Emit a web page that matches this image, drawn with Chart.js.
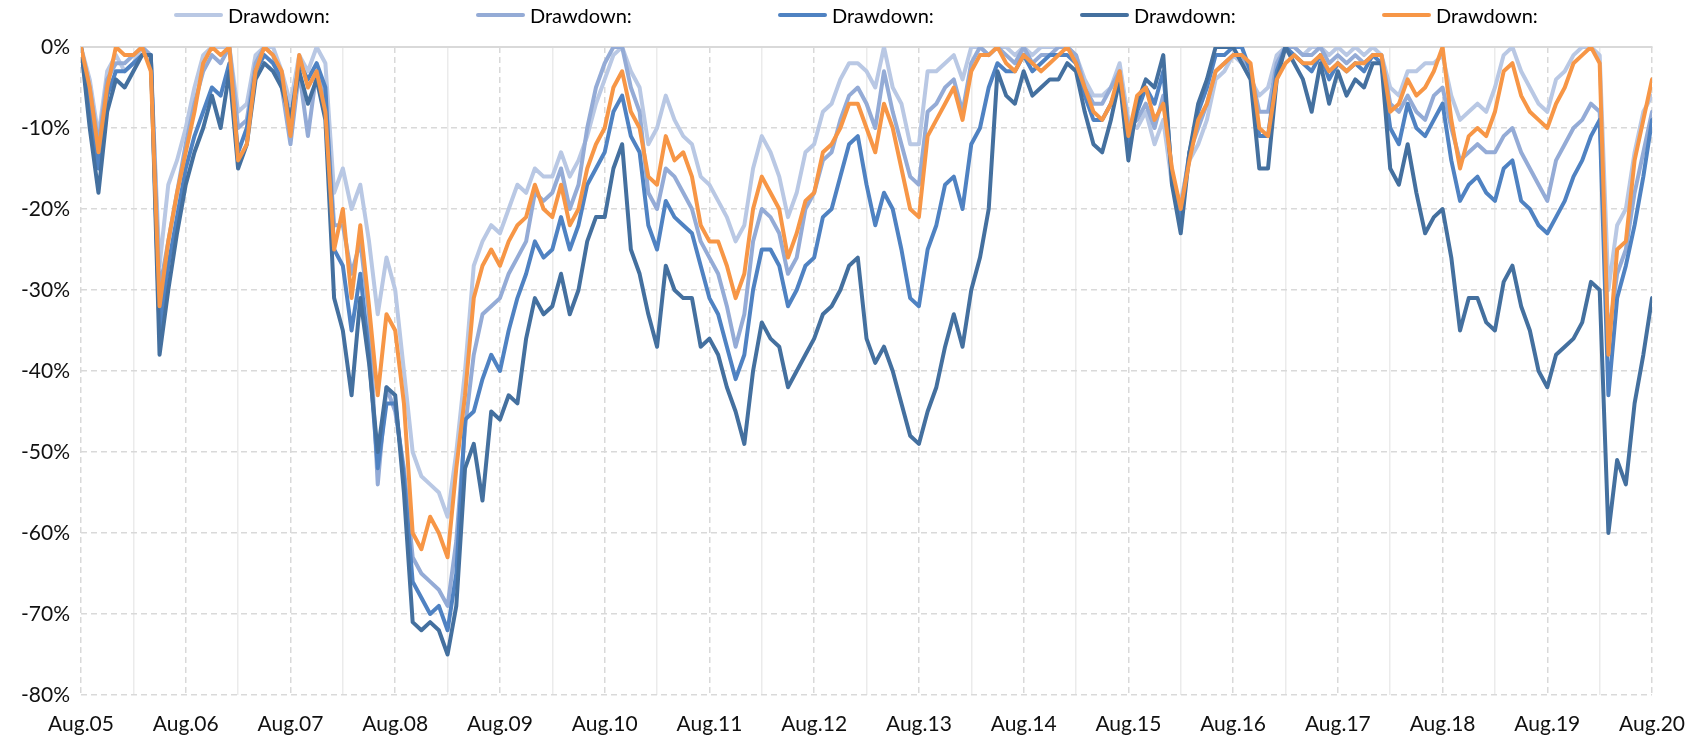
<!DOCTYPE html>
<html>
<head>
<meta charset="utf-8">
<title>Drawdown</title>
<script src="https://cdn.jsdelivr.net/npm/chart.js@4.4.1/dist/chart.umd.min.js"></script>
<style>
  html, body { margin: 0; padding: 0; background: #fff; }
  #wrap { position: relative; width: 1702px; height: 741px; }
  #legend { position: absolute; left: 174px; top: 4px; display: flex; font-family: Lato, sans-serif; font-size: 20px; color: #000; line-height: 22px; }
  #legend .item { width: 302px; display: flex; align-items: center; }
  #legend .swatch { width: 49px; height: 4px; border-radius: 2px; margin-right: 5px; }
</style>
</head>
<body>
<div id="wrap">
  <canvas id="chart" width="1702" height="741"></canvas>
  <div id="legend"></div>
</div>
<script>
// x positions: months since Aug.2005 (0 .. 180 = Aug.2020), one point per month
const months = Array.from({ length: 181 }, (_, i) => i);

// drawdown in %
const ddLight = [
  0, -4, -11, -3, -1, -3, -2, 0, -2, -27, -17, -14, -10, -5, -1, 0, 0, 0, -8, -7,
  -1, 0, 0, -3, -7, -1, -3, 0, -2, -18, -15, -20, -17, -24, -33, -26, -30, -40, -50, -53,
  -54, -55, -58, -50, -40, -27, -24, -22, -23, -20, -17, -18, -15, -16, -16, -13, -16, -14, -11, -7,
  -4, -1, 0, -3, -5, -12, -10, -6, -9, -11, -12, -16, -17, -19, -21, -24, -22, -15, -11, -13,
  -16, -21, -18, -13, -12, -8, -7, -4, -2, -2, -3, -5, 0, -5, -7, -12, -12, -3, -3, -2,
  -1, -4, 0, 0, -1, 0, 0, -1, 0, -1, 0, 0, 0, 0, -1, -4, -6, -6, -5, -2,
  -9, -10, -8, -12, -9, -17, -19, -14, -12, -9, -4, -3, -1, -2, -4, -6, -5, -1, 0, 0,
  -1, 0, 0, -1, 0, -1, 0, -1, 0, -1, -5, -6, -3, -3, -2, -2, -1, -6, -9, -8,
  -7, -8, -5, -1, 0, -3, -5, -7, -8, -4, -3, -1, 0, 0, -1, -30, -22, -20, -13, -8,
  -6
];
const ddMedium = [
  0, -5, -12, -4, -2, -2, -1, 0, -1, -30, -24, -18, -12, -7, -3, -1, -2, 0, -10, -9,
  -2, 0, -1, -5, -12, -3, -11, -3, -6, -22, -22, -28, -24, -33, -54, -42, -45, -52, -63, -65,
  -66, -67, -69, -61, -47, -38, -33, -32, -31, -28, -26, -24, -18, -19, -18, -15, -20, -17, -10, -5,
  -2, 0, 0, -5, -8, -18, -20, -15, -16, -18, -20, -24, -26, -28, -32, -37, -33, -24, -20, -21,
  -23, -28, -26, -20, -18, -14, -13, -9, -6, -5, -7, -10, -3, -8, -12, -16, -17, -8, -7, -5,
  -4, -8, -2, 0, -1, 0, -1, -2, 0, -2, -1, -1, 0, 0, -1, -5, -7, -7, -5, -3,
  -10, -9, -7, -10, -6, -16, -20, -13, -10, -7, -3, -2, -1, -1, -3, -8, -8, -2, 0, 0,
  -1, -1, 0, -2, -1, -2, -1, -2, -1, -1, -7, -8, -6, -8, -9, -6, -5, -10, -14, -13,
  -12, -13, -13, -11, -10, -13, -15, -17, -19, -14, -12, -10, -9, -7, -8, -36, -28, -25, -18, -13,
  -8
];
const ddBlue = [
  0, -8, -15, -6, -3, -3, -2, -1, -1, -35, -27, -21, -15, -11, -8, -5, -6, -2, -13, -10,
  -3, -1, -2, -4, -9, -2, -4, -2, -5, -25, -27, -35, -28, -38, -52, -44, -44, -53, -66, -68,
  -70, -69, -72, -65, -46, -45, -41, -38, -40, -35, -31, -28, -24, -26, -25, -21, -25, -22, -17, -15,
  -13, -8, -6, -11, -13, -22, -25, -19, -21, -22, -23, -27, -31, -33, -37, -41, -38, -30, -25, -25,
  -27, -32, -30, -27, -26, -21, -20, -16, -12, -11, -17, -22, -18, -20, -25, -31, -32, -25, -22, -17,
  -16, -20, -12, -10, -5, -2, -3, -3, -1, -3, -2, -1, -1, -1, -2, -6, -9, -9, -7, -4,
  -12, -8, -5, -7, -3, -16, -21, -13, -8, -5, -1, -1, 0, 0, -3, -11, -11, -3, 0, -1,
  -2, -3, -1, -4, -2, -3, -2, -3, -1, -2, -10, -12, -7, -10, -11, -9, -7, -14, -19, -17,
  -16, -18, -19, -15, -14, -19, -20, -22, -23, -21, -19, -16, -14, -11, -9, -43, -31, -27, -22, -16,
  -9
];
const ddDark = [
  0, -10, -18, -8, -4, -5, -3, -1, -1, -38, -30, -23, -17, -13, -10, -6, -10, -3, -15, -12,
  -4, -2, -3, -5, -9, -3, -7, -4, -9, -31, -35, -43, -31, -39, -50, -42, -43, -55, -71, -72,
  -71, -72, -75, -69, -52, -49, -56, -45, -46, -43, -44, -36, -31, -33, -32, -28, -33, -30, -24, -21,
  -21, -15, -12, -25, -28, -33, -37, -27, -30, -31, -31, -37, -36, -38, -42, -45, -49, -40, -34, -36,
  -37, -42, -40, -38, -36, -33, -32, -30, -27, -26, -36, -39, -37, -40, -44, -48, -49, -45, -42, -37,
  -33, -37, -30, -26, -20, -3, -6, -7, -3, -6, -5, -4, -4, -2, -3, -8, -12, -13, -9, -4,
  -14, -7, -4, -5, -1, -17, -23, -13, -7, -4, 0, 0, 0, -2, -4, -15, -15, -4, 0, -2,
  -4, -8, -2, -7, -3, -6, -4, -5, -2, -2, -15, -17, -12, -18, -23, -21, -20, -26, -35, -31,
  -31, -34, -35, -29, -27, -32, -35, -40, -42, -38, -37, -36, -34, -29, -30, -60, -51, -54, -44, -38,
  -31
];
const ddOrange = [
  0, -5, -13, -5, 0, -1, -1, 0, -3, -32, -24, -18, -13, -8, -2, 0, -1, 0, -14, -12,
  -3, 0, -1, -3, -11, -1, -5, -3, -8, -25, -20, -31, -22, -32, -43, -33, -35, -44, -60, -62,
  -58, -60, -63, -52, -43, -31, -27, -25, -27, -24, -22, -21, -17, -20, -21, -17, -22, -20, -15, -12,
  -10, -5, -3, -8, -10, -16, -17, -11, -14, -13, -16, -22, -24, -24, -27, -31, -28, -20, -16, -18,
  -20, -26, -23, -19, -18, -13, -12, -10, -7, -7, -10, -13, -7, -10, -15, -20, -21, -11, -9, -7,
  -5, -9, -3, -1, -1, 0, -2, -3, -1, -2, -3, -2, -1, 0, -2, -5, -8, -9, -7, -3,
  -11, -6, -5, -9, -7, -15, -20, -14, -9, -7, -3, -2, -1, -1, -2, -10, -11, -4, -2, -1,
  -2, -2, -1, -3, -2, -3, -2, -2, -1, -1, -8, -7, -4, -6, -5, -3, 0, -9, -15, -11,
  -10, -11, -8, -3, -2, -6, -8, -9, -10, -7, -5, -2, -1, 0, -2, -38, -25, -24, -14, -9,
  -4
];

const seriesLabels = ['Drawdown:', 'Drawdown:', 'Drawdown:', 'Drawdown:', 'Drawdown:'];
const seriesColors = ['#b9c8e4', '#94abd6', '#4f82c2', '#44709f', '#f79646'];

// Feb of each year: solid minor grid lines between the yearly ticks
const minorTicks = Array.from({ length: 15 }, (_, i) => 6 + 12 * i);

function yearLabel(v) {
  const yy = 5 + Math.round(v / 12);
  return 'Aug.' + String(yy).padStart(2, '0');
}

const htmlLegend = {
  id: 'htmlLegend',
  afterUpdate(chart) {
    const box = document.getElementById('legend');
    box.innerHTML = '';
    chart.data.datasets.forEach(ds => {
      const item = document.createElement('div');
      item.className = 'item';
      const sw = document.createElement('span');
      sw.className = 'swatch';
      sw.style.background = ds.borderColor;
      const txt = document.createElement('span');
      txt.textContent = ds.label;
      item.append(sw, txt);
      box.append(item);
    });
  }
};

const allSeries = [ddLight, ddMedium, ddBlue, ddDark, ddOrange];

const tickFont = { family: 'Lato', size: 21 };

new Chart(document.getElementById('chart'), {
  type: 'line',
  data: {
    labels: months,
    datasets: allSeries.map((vals, i) => ({
      label: seriesLabels[i],
      data: vals,
      borderColor: seriesColors[i],
      backgroundColor: seriesColors[i],
      order: allSeries.length - i
    }))
  },
  plugins: [htmlLegend],
  options: {
    responsive: false,
    animation: false,
    layout: { padding: { top: 47, right: 47, left: 0, bottom: 0 } },
    plugins: {
      legend: { display: false },
      tooltip: { enabled: false }
    },
    elements: {
      point: { radius: 0 },
      line: { tension: 0, borderWidth: 4, borderJoinStyle: 'round', borderCapStyle: 'round' }
    },
    scales: {
      x: {
        type: 'linear',
        position: 'bottom',
        min: 0,
        max: 180,
        afterFit: s => { s.height = 46; },
        ticks: {
          stepSize: 12,
          autoSkip: false,
          maxRotation: 0,
          padding: 17,
          color: '#111',
          font: tickFont,
          callback: v => yearLabel(v)
        },
        grid: { color: '#d9d9d9', lineWidth: 1.5, drawTicks: false },
        border: { display: false, dash: [6, 4] }
      },
      minor: {
        type: 'linear',
        axis: 'x',
        position: 'top',
        min: 0,
        max: 180,
        afterFit: s => { s.height = 0; },
        afterBuildTicks: s => { s.ticks = minorTicks.map(v => ({ value: v })); },
        ticks: { display: false },
        grid: { color: '#ebebeb', lineWidth: 1.5, drawTicks: false },
        border: { display: true, color: '#d9d9d9', width: 2 }
      },
      y: {
        min: -80,
        max: 0,
        afterFit: s => { s.width = 81; },
        ticks: {
          stepSize: 10,
          padding: 11,
          color: '#111',
          font: tickFont,
          callback: v => v + '%'
        },
        grid: { color: '#d9d9d9', lineWidth: 1.5, drawTicks: false },
        border: { display: false, dash: [6, 4] }
      }
    }
  }
});
</script>
</body>
</html>
